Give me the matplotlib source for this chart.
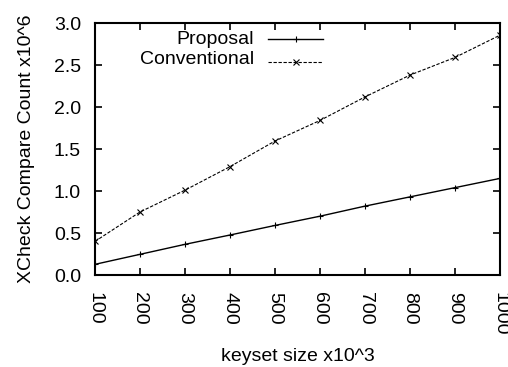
import matplotlib
matplotlib.use("Agg")
import matplotlib.pyplot as plt
from matplotlib.lines import Line2D

plt.rcParams['font.family'] = ['Liberation Sans', 'DejaVu Sans']

x = [100, 200, 300, 400, 500, 600, 700, 800, 900, 1000]
proposal = [0.127, 0.246, 0.365, 0.476, 0.59, 0.70, 0.82, 0.93, 1.04, 1.15]
conventional = [0.40, 0.75, 1.01, 1.29, 1.595, 1.84, 2.12, 2.38, 2.59, 2.855]
series_names = ['Proposal', 'Conventional']
xticks = [100, 200, 300, 400, 500, 600, 700, 800, 900, 1000]
yticks = [0.0, 0.5, 1.0, 1.5, 2.0, 2.5, 3.0]

FS = 14
fig = plt.figure(figsize=(5.08, 3.67), dpi=100)
ax = fig.add_axes([95/508, 1-275/367, (500-95)/508, (275-23)/367])

styles = [dict(color='black', lw=1.0, ls='-', marker='+', ms=5, mew=0.8),
          dict(color='black', lw=0.8, ls=(0, (3, 1.5)), marker='x', ms=4, mew=0.8)]
ax.plot(x, proposal, **styles[0])
ax.plot(x, conventional, **styles[1])

ax.set_xlim(100, 1000)
ax.set_ylim(0, 3.0)
ax.set_xticks(xticks)
ax.set_xticklabels([str(v) for v in xticks], rotation=270, fontsize=FS)
ax.set_yticks(yticks)
ax.set_yticklabels([f"{v:.1f}" for v in yticks], fontsize=FS)
ax.tick_params(direction='in', top=True, right=True, length=5, width=1.2)
ax.tick_params(axis='x', pad=12)
ax.tick_params(axis='y', pad=10)
for s in ax.spines.values():
    s.set_linewidth(1.5)

ax.set_xlabel('keyset size x10^3', fontsize=FS, labelpad=9)
ax.set_ylabel('XCheck Compare Count x10^6', fontsize=FS, labelpad=14)

# gnuplot-style key: right-aligned labels, sample line to the right
handles = [Line2D([], [], **st) for st in styles]
leg = ax.legend(handles, ['', ''], loc='upper left',
                bbox_to_anchor=((268-95)/405, 1 - (32-23)/252),
                frameon=False, fontsize=FS, handlelength=2.83, handletextpad=0,
                labelspacing=0.3, borderaxespad=0, borderpad=0, markerscale=1)
ys = [39, 60]
for name, yp in zip(series_names, ys):
    ax.text((254-95)/405, 1 - (yp-23)/252, name, transform=ax.transAxes,
            ha='right', va='center', fontsize=FS)

fig.savefig('out.png', dpi=100)
